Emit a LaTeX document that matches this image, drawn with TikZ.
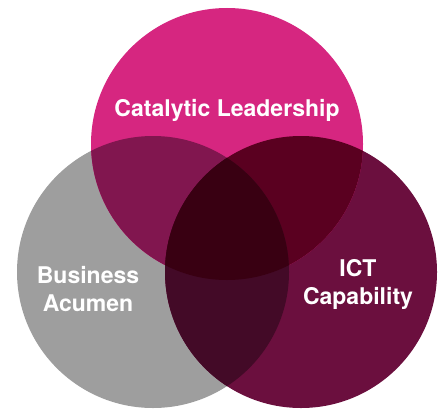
\documentclass[tikz,border=0pt]{standalone}
\usepackage{fontspec}
\setmainfont{TeX Gyre Heros}
\usepackage{xcolor}
\usepackage{tikz}
\usetikzlibrary{positioning}

\definecolor{catalytic}{HTML}{D62680}
\definecolor{business}{HTML}{9E9E9E}
\definecolor{ict}{HTML}{6B0F3E}
\definecolor{catbus}{HTML}{81164F}
\definecolor{catict}{HTML}{5A0020}
\definecolor{busict}{HTML}{430A27}
\definecolor{allthree}{HTML}{390012}

\tikzset{
  label text/.style={text=white, font=\fontsize{23}{28}\selectfont\bfseries, align=center, inner sep=0pt}
}

\begin{document}
\begin{tikzpicture}[x=1pt, y=-1pt]
  \useasboundingbox (0,0) rectangle (443,409);
  \def\rad{136}
  \coordinate (C) at (227,144);
  \coordinate (B) at (153,272);
  \coordinate (I) at (301,272);
  % base circles
  \fill[business] (B) circle (\rad);
  \fill[ict] (I) circle (\rad);
  \fill[catalytic] (C) circle (\rad);
  % pairwise overlaps
  \begin{scope}
    \clip (C) circle (\rad);
    \fill[catbus] (B) circle (\rad);
    \fill[catict] (I) circle (\rad);
  \end{scope}
  \begin{scope}
    \clip (B) circle (\rad);
    \fill[busict] (I) circle (\rad);
    \clip (I) circle (\rad);
    \fill[allthree] (C) circle (\rad);
  \end{scope}
  % labels
  \node[label text] (catlabel) at (227,110) {Catalytic Leadership};
  \node[label text] (buslabel) at (88,289) {Business\\Acumen};
  \node[label text] (ictlabel) at (358,284) {ICT\\Capability};
\end{tikzpicture}
\end{document}
